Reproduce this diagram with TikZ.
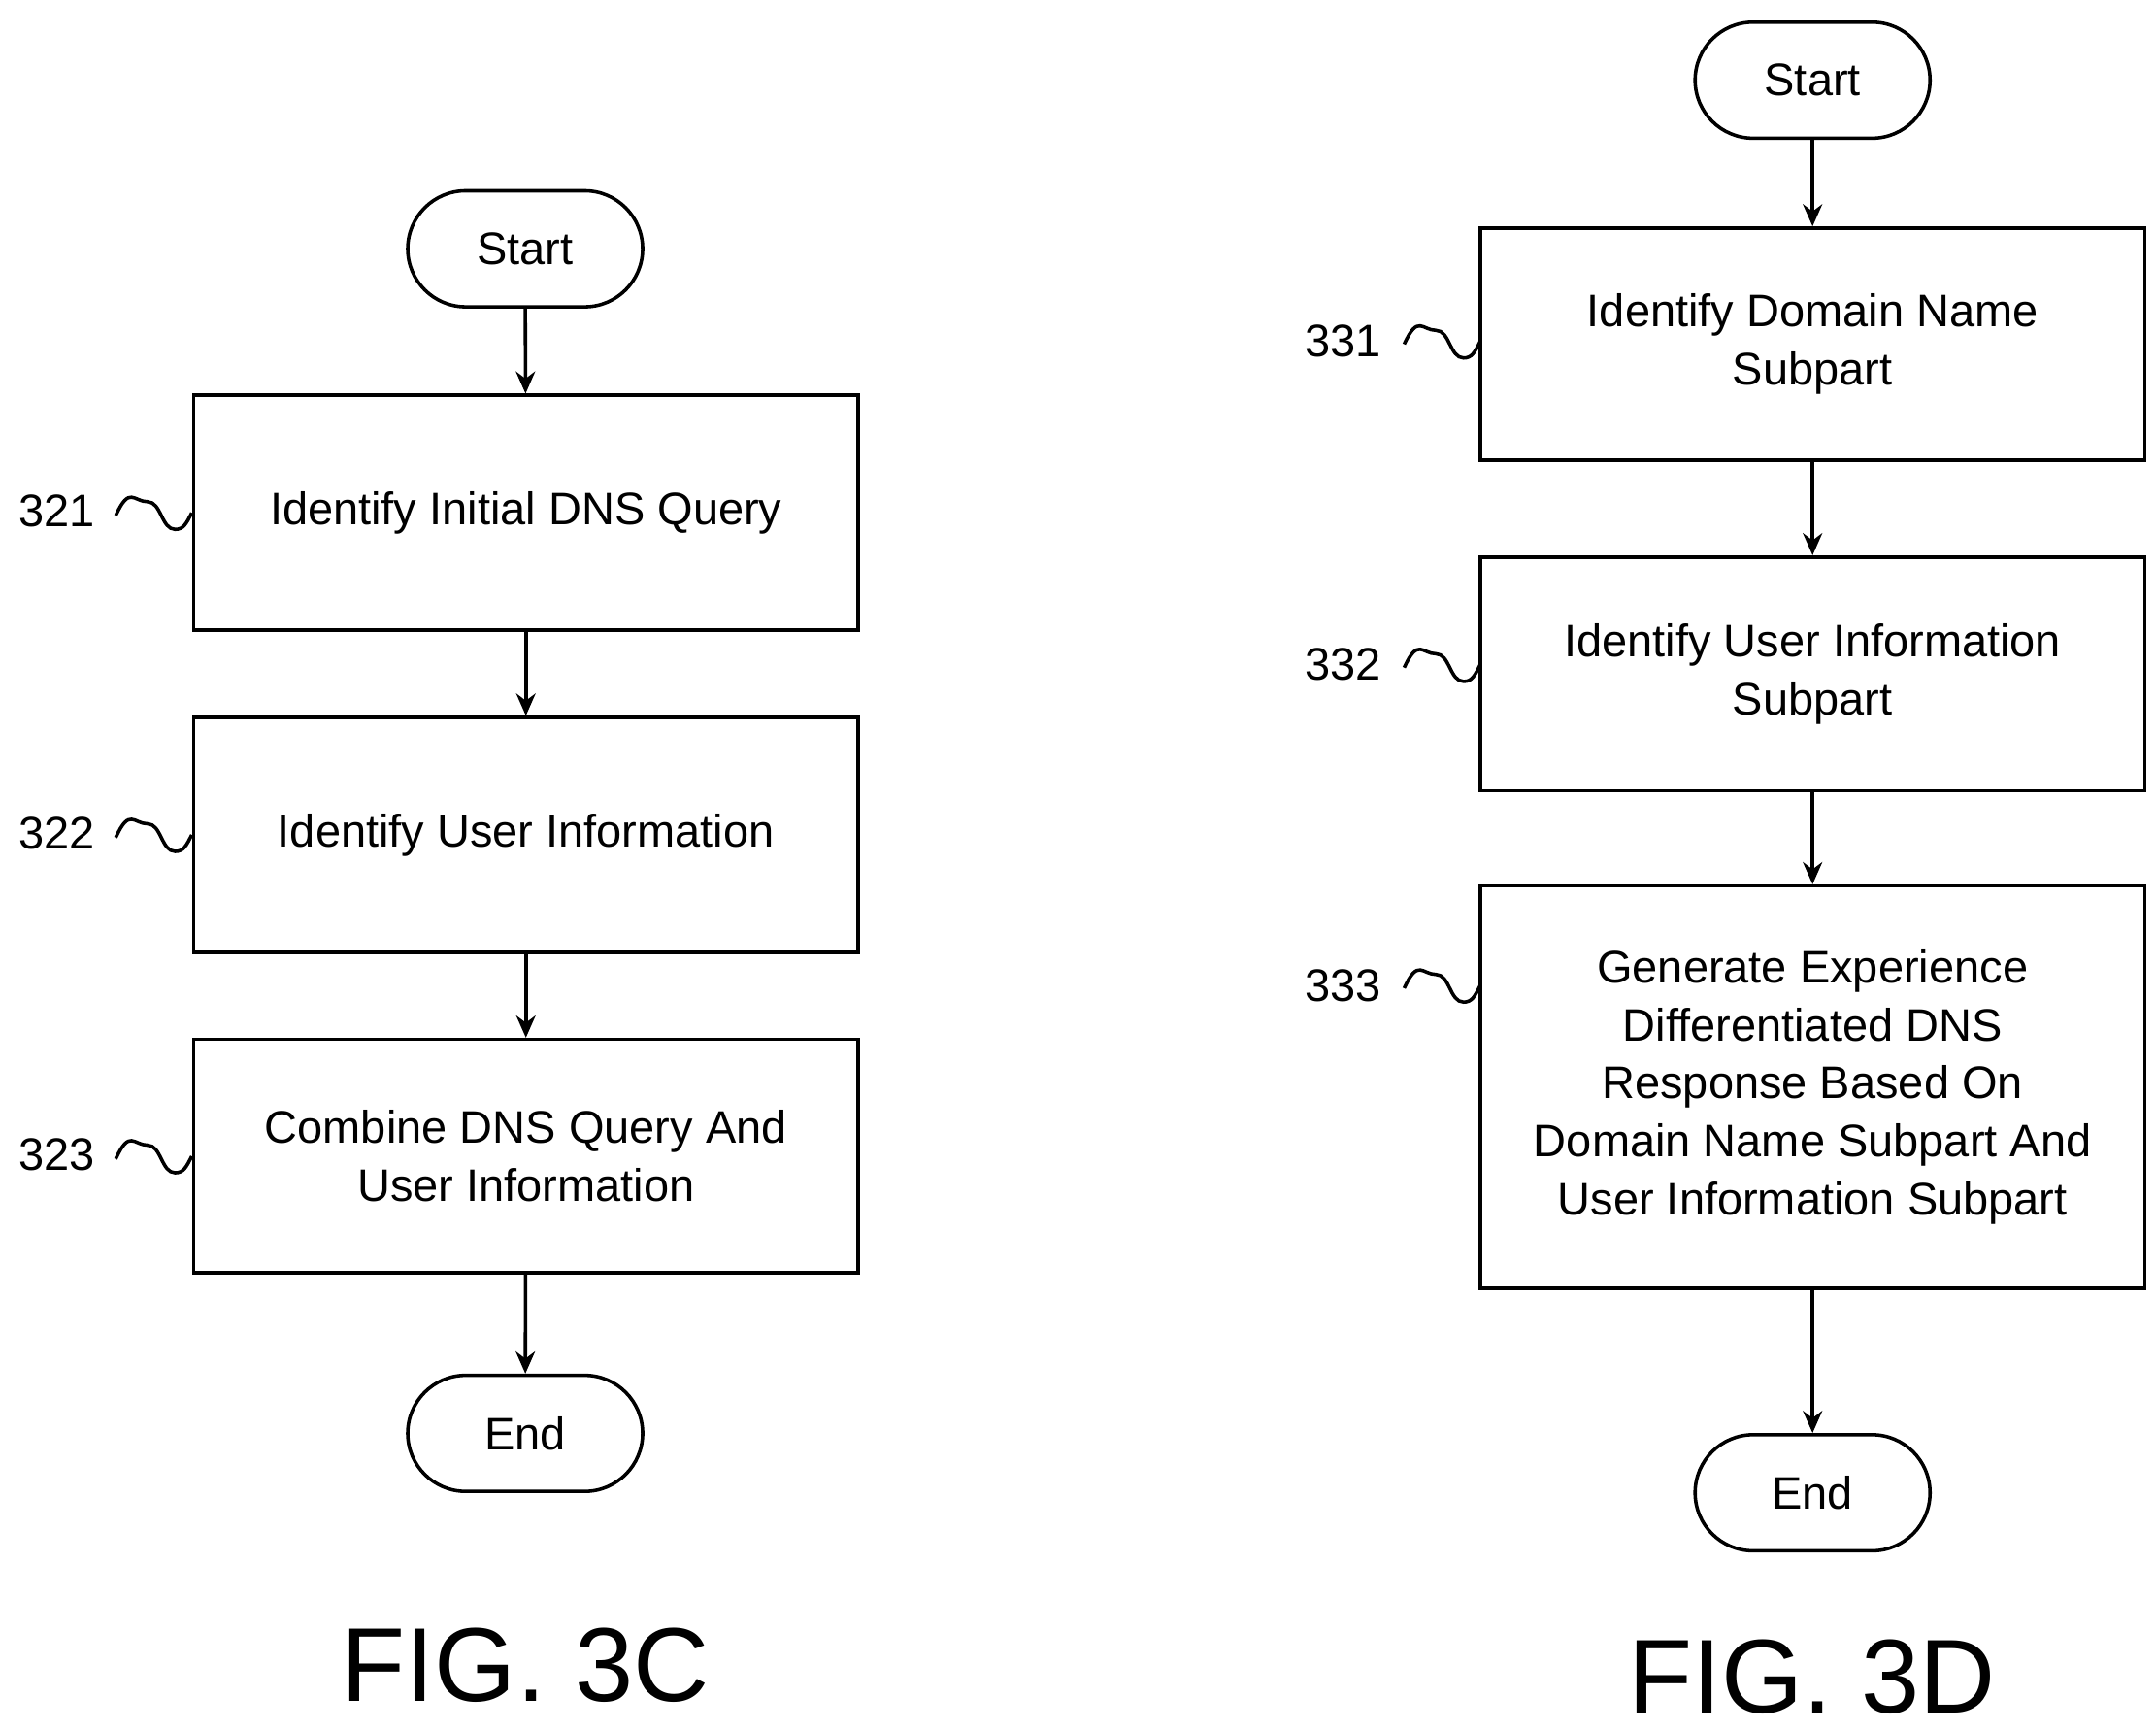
\documentclass[tikz,border=0pt]{standalone}
\usepackage{fontspec}
\setmainfont{Liberation Sans}
\usetikzlibrary{arrows.meta,calc}
\begin{document}
\begin{tikzpicture}[x=1pt,y=-1pt,
  every node/.style={font=\fontsize{33}{42}\selectfont, align=center},
  box/.style={draw, line width=2.5pt, minimum width=481pt, inner sep=0pt},
  term/.style={draw, line width=2.5pt, rounded corners=42pt, minimum width=170pt, minimum height=84pt},
  arr/.style={line width=2.5pt, -{Stealth[length=16pt,width=14pt]}},
  sq/.style={line width=2.5pt},
  fig/.style={font=\fontsize{76}{80}\selectfont}]
\useasboundingbox (0,0) rectangle (1560,1251);
% left
\node[term] (s1) at (380,180) {Start};
\node[box, minimum height=170pt] (a1) at (380.5,371) {Identify Initial DNS Query};
\node[box, minimum height=170pt] (a2) at (380.5,604) {Identify User Information};
\node[box, minimum height=169pt] (a3) at (380.5,836.5) {Combine DNS Query And\\User Information};
\node[term] (e1) at (380,1037) {End};
\draw[arr] (s1) -- (a1);
\draw[arr] (a1) -- (a2);
\draw[arr] (a2) -- (a3);
\draw[arr] (a3) -- (e1);
\node (l1) at (41,370) {321};
\node (l2) at (41,603) {322};
\node (l3) at (41,835) {323};
\foreach \b in {a1,a2,a3}{
  \draw[sq] ($(\b.west)+(-55,2)$) .. controls +(10,-22) and +(-10,0) .. ($(\b.west)+(-32,-8)$) .. controls +(10,0) and +(-10,0) .. ($(\b.west)+(-12,12)$) .. controls +(6,0) and +(-4,8) .. (\b.west);
}
\node[fig] (f1) at (380,1205) {FIG. 3C};
% right
\node[term] (s2) at (1311.5,58) {Start};
\node[box, minimum height=168pt] (b1) at (1311.5,249) {Identify Domain Name\\Subpart};
\node[box, minimum height=169pt] (b2) at (1311.5,487.5) {Identify User Information\\Subpart};
\node[box, minimum height=291pt] (b3) at (1311.5,786.5) {Generate Experience\\Differentiated DNS\\Response Based On\\Domain Name Subpart And\\User Information Subpart};
\node[term] (e2) at (1311.5,1080) {End};
\draw[arr] (s2) -- (b1);
\draw[arr] (b1) -- (b2);
\draw[arr] (b2) -- (b3);
\draw[arr] (b3) -- (e2);
\node (m1) at (972,247) {331};
\node (m2) at (972,481) {332};
\node (m3) at (972,713) {333};
\foreach \b/\yy in {b1/247,b2/481,b3/713}{
  \coordinate (w) at (1071,\yy);
  \draw[sq] ($(w)+(-55,2)$) .. controls +(10,-22) and +(-10,0) .. ($(w)+(-32,-8)$) .. controls +(10,0) and +(-10,0) .. ($(w)+(-12,12)$) .. controls +(6,0) and +(-4,8) .. (w);
}
\node[fig] (f2) at (1311,1213) {FIG. 3D};
\end{tikzpicture}
\end{document}
